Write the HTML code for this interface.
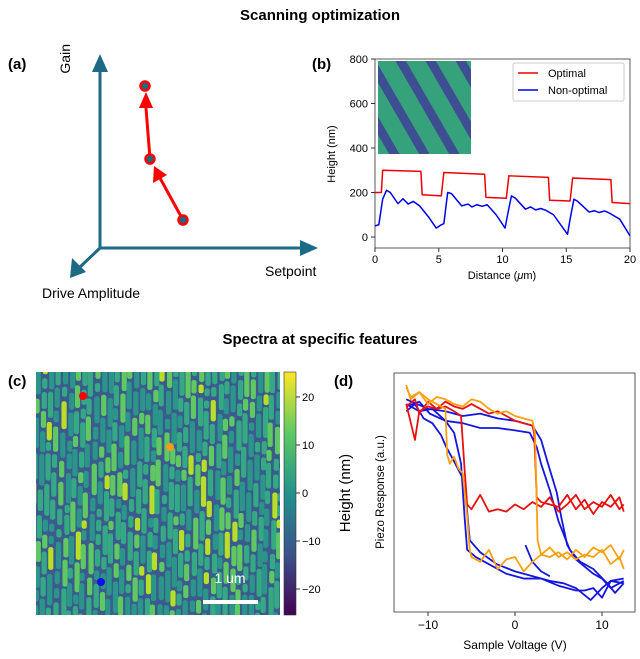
<!DOCTYPE html>
<html><head><meta charset="utf-8"><style>
body{margin:0;background:#fff;}
svg{display:block;font-family:"Liberation Sans",sans-serif;}
</style></head><body>
<svg id="fig" width="640" height="659" viewBox="0 0 640 659" xmlns="http://www.w3.org/2000/svg">
<defs>
<pattern id="stripes" patternUnits="userSpaceOnUse" width="26" height="26" patternTransform="rotate(-30)">
<rect width="26" height="26" fill="#35a27c"/><rect width="9" height="26" fill="#3d4f92"/>
</pattern>
<linearGradient id="viridis" x1="0" y1="1" x2="0" y2="0">
<stop offset="0" stop-color="#440154"/><stop offset="0.25" stop-color="#3b528b"/><stop offset="0.5" stop-color="#21918c"/><stop offset="0.75" stop-color="#5ec962"/><stop offset="1" stop-color="#fde725"/>
</linearGradient>
<clipPath id="clipc"><rect x="36" y="372" width="244" height="243"/></clipPath>
<clipPath id="clipd"><rect x="394" y="373" width="241" height="239"/></clipPath>
</defs>
<text x="320" y="20" text-anchor="middle" font-size="15" font-weight="bold">Scanning optimization</text>
<text x="320" y="344" text-anchor="middle" font-size="15" font-weight="bold">Spectra at specific features</text>

<!-- panel a -->
<g>
<text x="8" y="69" font-size="15" font-weight="bold">(a)</text>
<g stroke="#1d6a86" stroke-width="3" fill="#1d6a86">
<line x1="100" y1="248" x2="100" y2="70"/>
<polygon points="92,72 108,72 100,54" stroke="none"/>
<line x1="100" y1="248" x2="302" y2="248"/>
<polygon points="300,240 300,256 318,248" stroke="none"/>
<line x1="100" y1="248" x2="80" y2="267"/>
<polygon points="72,258 86,272 70,278" stroke="none"/>
</g>
<text x="72" y="44" font-size="14" transform="rotate(-90 72 44)" text-anchor="end" dy="-2">Gain</text>
<text x="265" y="276" font-size="14">Setpoint</text>
<text x="42" y="298" font-size="14">Drive Amplitude</text>
<g stroke="#f00" stroke-width="3" fill="#f00">
<line x1="183" y1="220" x2="160" y2="178"/><polygon points="153,183 167,175 154,166" stroke="none"/>
<line x1="150" y1="159" x2="146" y2="108"/><polygon points="139,108 153,108 146,92" stroke="none"/>
</g>
<g fill="#1d6a86" stroke="#f00" stroke-width="2.5">
<circle cx="145" cy="86" r="4.5"/>
<circle cx="150" cy="159" r="4.5"/>
<circle cx="183" cy="220" r="4.5"/>
</g>
</g>

<!-- panel b -->
<g id="pb">
<text x="312" y="69" font-size="15" font-weight="bold">(b)</text>
<rect x="378" y="61" width="93" height="93" fill="url(#stripes)"/>
<rect x="375" y="59" width="255" height="189" fill="none" stroke="#333" stroke-width="0.8"/>
<text font-size="11" transform="rotate(-90 331 154)" text-anchor="middle"><tspan x="331" y="158">Height (nm)</tspan></text>
<text x="502" y="279" font-size="11" text-anchor="middle">Distance (<tspan font-style="italic">μ</tspan>m)</text>
<g>
<rect x="513" y="63" width="111" height="38" fill="#fff" stroke="#ccc" rx="2"/>
<line x1="518" y1="73" x2="538" y2="73" stroke="#e00" stroke-width="1.5"/>
<text x="548" y="77" font-size="11">Optimal</text>
<line x1="518" y1="90" x2="538" y2="90" stroke="#00e" stroke-width="1.5"/>
<text x="548" y="94" font-size="11">Non-optimal</text>
</g>
</g>

<!-- panel c -->
<g id="pc">
<text x="8" y="386" font-size="15" font-weight="bold">(c)</text>
<rect x="36" y="372" width="244" height="243" fill="#3b5a8e"/>
<g id="tex" clip-path="url(#clipc)"></g>
<circle cx="83" cy="396" r="4" fill="#f00"/>
<circle cx="170" cy="447" r="4" fill="#ff9a1a"/>
<circle cx="101" cy="582" r="4" fill="#1010ee"/>
<rect x="203" y="600" width="55" height="4" fill="#fff"/>
<text x="230" y="583" font-size="14" fill="#fff" text-anchor="middle">1 um</text>
<rect x="284" y="372" width="12" height="243" fill="url(#viridis)" stroke="#333" stroke-width="0.6"/>
<text x="350" y="493" font-size="15" transform="rotate(-90 350 493)" text-anchor="middle">Height (nm)</text>
</g>

<!-- panel d -->
<g id="pd">
<text x="334" y="386" font-size="15" font-weight="bold">(d)</text>
<rect x="394" y="373" width="241" height="239" fill="none" stroke="#333" stroke-width="0.8"/>
<text x="384" y="492" font-size="11.5" transform="rotate(-90 384 492)" text-anchor="middle">Piezo Response (a.u.)</text>
<text x="515" y="649" font-size="12" text-anchor="middle">Sample Voltage (V)</text>
</g>
</svg>
<script>
const NS="http://www.w3.org/2000/svg";
const svg=document.getElementById('fig');
// ---- panel b data ----
const bXTicks=[0,5,10,15,20];
const bYTicks=[0,200,400,600,800];
const optX=[0,0.5,0.6,3.6,3.7,5.2,5.4,8.6,8.7,10.3,10.5,13.6,13.7,15.3,15.5,18.5,18.6,20];
const optY=[200,200,300,295,190,185,290,282,178,174,275,268,165,162,265,258,155,150];
const nonX=[0,0.3,0.6,0.9,1.2,1.8,2.2,2.6,3,3.5,4.2,4.8,5.2,5.4,5.7,6,6.8,7.3,7.6,8,8.4,8.8,9.5,10.2,10.4,10.7,11,11.8,12.2,12.6,13,13.4,14,15.1,15.3,15.6,15.9,16.8,17.2,17.6,18,18.3,19.2,20];
const nonY=[50,55,170,210,200,150,172,148,160,140,90,40,55,60,200,195,140,148,135,145,138,145,100,40,100,185,175,125,135,122,128,120,100,12,80,170,160,112,118,110,117,110,80,5];
// ---- panel c colorbar ----
const cbTicks=[20,10,0,-10,-20];
// ---- panel d data ----
const dXTicks=[-10,0,10];
const redV1=[-12.5,-11.5,-11,-10,-9,-8,-7,-6.2,-5.8,-5.5,-5,-4,-3,-2,-1,0,1,2,3,4,5,6,7,8,9,10,11,12,12.5];
const redY1=[8.6,8.9,8.3,8.8,8.5,8.6,8.4,8.2,6.0,4.5,4.3,4.9,4.2,4.3,4.2,4.5,4.3,4.6,4.4,4.8,4.2,4.5,4.9,4.3,4.6,4.4,4.9,4.3,4.5];
const redV2=[12.5,12,11,10,9,8,7,6,5,4,3,2.5,2.2,2,1,0,-1,-2,-3,-4,-5,-6,-7,-8,-9,-10,-11,-11.5,-12.5];
const redY2=[4.2,4.8,4.4,4.6,4.1,4.7,4.3,4.9,4.4,4.5,4.6,4.8,7.5,7.8,7.9,8.0,8.2,8.4,8.3,8.5,8.7,8.5,8.6,8.8,8.5,8.6,8.4,7.2,8.7];
const orV1=[-12.5,-12,-11,-10,-9,-8.5,-8,-7.8,-7.5,-7,-6.5,-6,-5.5,-5.2,-5,-4,-3,-2,-1,0,1,2,3,4,5,6,7,8,9,10,11,12,12.5];
const orY1=[9.5,8.9,9.2,8.9,8.7,8.6,8.5,6.6,6.2,6.5,6.0,5.8,4.0,2.6,2.3,2.1,2.6,1.8,2.2,2.3,1.7,2.1,2.4,2.3,2.5,2.2,2.6,2.3,2.7,2.5,2.8,2.2,2.6];
const orV2=[12.5,12,11,10,9,8,7,6,5,4,3,2.6,2.3,2,1,0,-1,-2,-3,-4,-5,-6,-7,-8,-9,-10,-11,-12,-12.5];
const orY2=[1.8,2.3,2.0,2.6,2.3,2.4,2.2,2.5,2.3,2.7,2.4,3.0,7.5,8.0,8.1,8.2,8.4,8.3,8.5,8.8,8.9,8.6,8.7,8.9,9.0,8.7,9.2,9.0,9.4];
const blV1=[-12.5,-11.5,-10.5,-9.5,-8.5,-7.9,-7,-6,-5.6,-5.2,-4,-2.1,0,2,4,5.6,7,8.7,10,11,12.5];
const blY1=[8.4,8.7,8.1,7.9,7.4,6.9,6.3,5.6,4.6,3.0,2.5,2.0,1.7,1.5,1.3,1.2,1.0,0.5,1.0,1.3,1.2];
const blV2=[12.5,11.5,10.6,9,7.5,6.3,5,4,3,2.5,1.7,0,-2,-4,-6,-8,-9.8,-11,-12.5];
const blY2=[1.2,0.8,1.2,1.8,2.1,2.6,3.8,5.1,6.2,6.9,7.5,7.6,7.7,7.7,7.9,8.0,8.3,8.8,8.6];
const blV3=[-12.5,-11,-9.5,-8,-7,-6.2,-5.8,-5.5,-4.5,-3,-1,1,3,5,7,8,9,10,11,12.5];
const blY3=[8.7,8.4,8.5,8.0,7.5,6.2,4.0,2.6,2.3,2.0,1.6,1.4,1.4,1.1,0.9,0.9,1.0,0.6,1.3,1.4];
const blV4=[12.5,11,10,9,8,7,6,5.3,4.8,4.3,3.8,3,2,0,-2,-4,-6,-8,-10,-12.5];
const blY4=[1.3,1.0,1.4,1.6,1.9,2.2,2.8,4.0,5.0,5.6,6.2,7.2,7.8,8.0,8.1,8.3,8.2,8.4,8.5,8.9];
const blV5=[1.2,2,3,4];
const blY5=[2.8,2.1,1.7,1.5];

function el(tag,attrs,parent){const e=document.createElementNS(NS,tag);for(const k in attrs)e.setAttribute(k,attrs[k]);(parent||svg).appendChild(e);return e;}

// panel b axes
const bx=v=>375+v*(255/20);
const by=v=>237-v*(178/800);
const pb=document.getElementById('pb');
bXTicks.forEach(t=>{
  const l=el('line',{x1:bx(t),x2:bx(t),y1:248,y2:252,stroke:'#333'},pb);
  
  
  const tx=el('text',{x:bx(t),y:263,'font-size':11,'text-anchor':'middle'},pb);tx.textContent=t;
  
  
});
bYTicks.forEach(t=>{
  const l=el('line',{x1:371,x2:375,y1:by(t),y2:by(t),stroke:'#333'},pb);
  
  
  const tx=el('text',{x:368,y:by(t)+4,'font-size':11,'text-anchor':'end'},pb);tx.textContent=t;
  
  
});
function poly(xs,ys,fx,fy,color,parent,name,w,clip){
  const p=el('polyline',{points:xs.map((x,i)=>fx(x)+','+fy(ys[i])).join(' '),fill:'none',stroke:color,'stroke-width':w||1.5,'stroke-linejoin':'round'},parent);
  if(clip)p.setAttribute('clip-path',clip);
  
  
  return p;
}
poly(optX,optY,bx,by,'#e00',pb,'line-optimal');
poly(nonX,nonY,bx,by,'#00e',pb,'line-non-optimal');

// panel c texture (decorative)
const tex=document.getElementById('tex');
let seed=11;const rnd=()=>{seed=(seed*16807)%2147483647;return seed/2147483647;};
for(let cx=30;cx<290;cx+=6.5){
  let y=360+rnd()*10;
  const jit=rnd()*2-1;
  while(y<625){
    const len=8+rnd()*24;
    const r=rnd();
    const col=r<0.08?'#b8de29':(r<0.3?'#5fc862':(r<0.65?'#35a983':'#2b958a'));
    const x=cx+jit-(y-372)*0.04;
    el('rect',{x:x,y:y,width:5.2,height:len,rx:2.2,fill:col},tex);
    y+=len+1.5+rnd()*3;
  }
}
const pc=document.getElementById('pc');
const cby=v=>493-v*4.8;
cbTicks.forEach(t=>{
  const l=el('line',{x1:296,x2:300,y1:cby(t),y2:cby(t),stroke:'#333'},pc);
  
  
  const tx=el('text',{x:302,y:cby(t)+4,'font-size':11},pc);tx.textContent=t<0?'\u2212'+(-t):t;
  
  
});

// panel d
const pd=document.getElementById('pd');
const dx=v=>515+v*8.7;
const dy=v=>612-v*23.9;
dXTicks.forEach(t=>{
  const l=el('line',{x1:dx(t),x2:dx(t),y1:612,y2:616,stroke:'#333'},pd);
  
  
  const tx=el('text',{x:dx(t),y:629,'font-size':12,'text-anchor':'middle'},pd);tx.textContent=t<0?'\u2212'+(-t):t;
  
  
});
const C='url(#clipd)';
poly(blV1,blY1,dx,dy,'#1515e0',pd,'blue-loop-down-1',1.8,C);
poly(blV2,blY2,dx,dy,'#1515e0',pd,'blue-loop-up-1',1.8,C);
poly(blV3,blY3,dx,dy,'#1515e0',pd,'blue-loop-down-2',1.8,C);
poly(blV4,blY4,dx,dy,'#1515e0',pd,'blue-loop-up-2',1.8,C);
poly(blV5,blY5,dx,dy,'#1515e0',pd,'blue-start',1.8,C);
poly(redV1,redY1,dx,dy,'#e81010',pd,'red-loop-down',1.8,C);
poly(redV2,redY2,dx,dy,'#e81010',pd,'red-loop-up',1.8,C);
poly(orV1,orY1,dx,dy,'#ffa010',pd,'orange-loop-down',1.8,C);
poly(orV2,orY2,dx,dy,'#ffa010',pd,'orange-loop-up',1.8,C);
</script>
</body></html>
